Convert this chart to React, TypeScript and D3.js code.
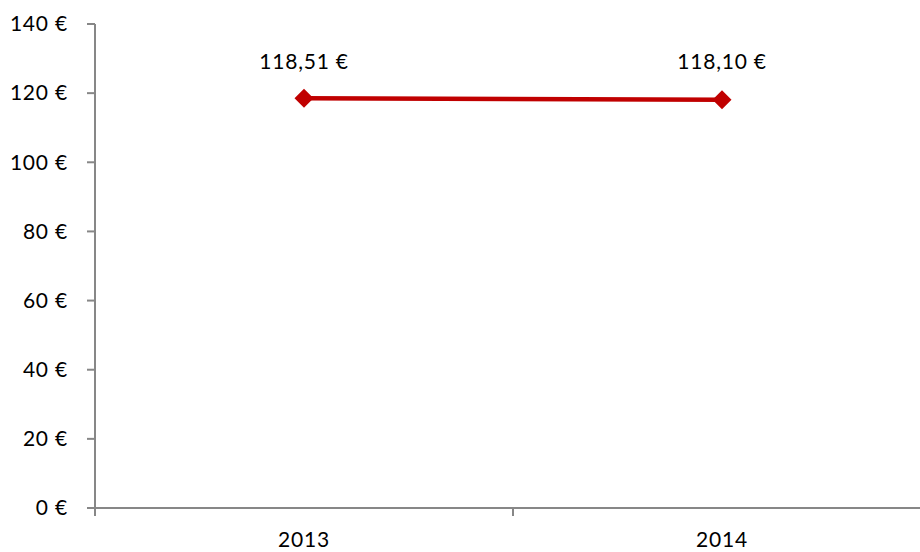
import React from "react";
import * as d3 from "d3";

const categories = ["2013", "2014"];
const values = [118.51, 118.1];
const valueLabels = ["118,51 €", "118,10 €"];
const yTicks = [0, 20, 40, 60, 80, 100, 120, 140];

export default function App() {
  const W = 920, H = 552;
  const x = d3.scaleBand<string>().domain(categories).range([95, 931]).padding(0);
  const y = d3.scaleLinear().domain([0, 140]).range([508, 24]);
  const cx = (c: string) => (x(c) as number) + x.bandwidth() / 2;
  const line = d3.line<number>().x((_, i) => cx(categories[i])).y((v) => y(v));
  const font = "Lato, 'Open Sans', sans-serif";
  const fs = 21;
  const ls = 0.8;
  const axisColor = "#878787";
  const diamond = (px: number, py: number, r: number) =>
    `M${px},${py - r}L${px + r},${py}L${px},${py + r}L${px - r},${py}Z`;
  const xTickPos = [95, 513, 931];
  return (
    <svg width={W} height={H} style={{ position: "absolute", left: 0, top: 0, background: "#fff" }}>
      <line x1={95} x2={95} y1={y(140)} y2={y(0)} stroke={axisColor} strokeWidth={2} />
      {yTicks.map((t) => (
        <g key={t}>
          <line x1={87} x2={95} y1={y(t)} y2={y(t)} stroke={axisColor} strokeWidth={2} />
          <text x={68} y={y(t)} dy="0.35em" textAnchor="end" fontFamily={font} fontSize={fs} letterSpacing={ls} fill="#000">
            {`${t} €`}
          </text>
        </g>
      ))}
      <line x1={95} x2={W} y1={y(0)} y2={y(0)} stroke={axisColor} strokeWidth={2} />
      {xTickPos.map((p) => (
        <line key={p} x1={p} x2={p} y1={y(0)} y2={y(0) + 8} stroke={axisColor} strokeWidth={2} />
      ))}
      {categories.map((c) => (
        <text key={c} x={cx(c)} y={547} textAnchor="middle" fontFamily={font} fontSize={fs} letterSpacing={ls} fill="#000">
          {c}
        </text>
      ))}
      <path d={line(values) || ""} fill="none" stroke="#C00000" strokeWidth={4.5} />
      {values.map((v, i) => (
        <path key={i} d={diamond(cx(categories[i]), y(v), 9.5)} fill="#C00000" />
      ))}
      {values.map((v, i) => (
        <text key={i} x={cx(categories[i])} y={69} textAnchor="middle" fontFamily={font} fontSize={fs} letterSpacing={ls} fill="#000">
          {valueLabels[i]}
        </text>
      ))}
    </svg>
  );
}
